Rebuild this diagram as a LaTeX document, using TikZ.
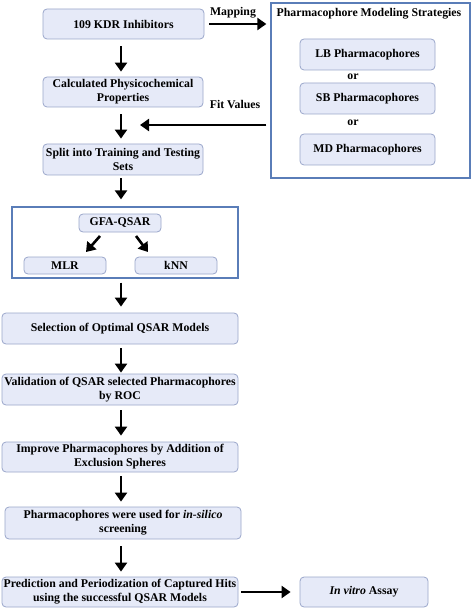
\documentclass[tikz,border=0pt]{standalone}
\usepackage{fontspec}
\setmainfont{Liberation Serif}
\usepackage{tikz}
\usetikzlibrary{arrows.meta}

\definecolor{boxfill}{HTML}{E6EAF8}
\definecolor{boxline}{HTML}{9AA6CA}
\definecolor{frameline}{HTML}{5A7DB8}

\begin{document}
\begin{tikzpicture}[x=1pt,y=-1pt,
    stepbox/.style={draw=boxline, fill=boxfill, rounded corners=4pt, line width=0.8pt,
        align=center, inner sep=1pt, font=\fontsize{11.8}{14}\selectfont\bfseries},
    framebox/.style={draw=frameline, line width=1.3pt},
    flow/.style={line width=2.6pt, -{Triangle[length=9pt,width=12pt]}},
    lbl/.style={font=\fontsize{11.8}{14}\selectfont\bfseries}]
        \useasboundingbox (0,0) rectangle (474,612);
        \coordinate (col) at(121,0);
        % left column
        \node[stepbox, minimum width=161pt, minimum height=30pt] (kdr) at(123.5,24) {109 KDR Inhibitors};
        \node[stepbox, minimum width=160pt, minimum height=30pt] (calc) at(123,92) {Calculated Physicochemical\\Properties};
        \node[stepbox, minimum width=160pt, minimum height=31pt] (split) at(123,159.5) {Split into Training and Testing\\Sets};
        \node[framebox, minimum width=226pt, minimum height=71pt] (qsar) at(125,242.5) {};
        \node[stepbox, minimum width=82pt, minimum height=18pt] (gfa) at(120,223) {GFA-QSAR};
        \node[stepbox, minimum width=82pt, minimum height=17pt] (mlr) at(65,265.5) {MLR};
        \node[stepbox, minimum width=82pt, minimum height=17pt] (knn) at(176,265.5) {kNN};
        \node[stepbox, minimum width=236pt, minimum height=31pt] (select) at(120,328.5) {Selection of Optimal QSAR Models};
        \node[stepbox, minimum width=236pt, minimum height=31pt] (valid) at(120,389.5) {Validation of QSAR selected Pharmacophores\\by ROC};
        \node[stepbox, minimum width=236pt, minimum height=30pt] (improve) at(120,457) {Improve Pharmacophores by Addition of\\Exclusion Spheres};
        \node[stepbox, minimum width=236pt, minimum height=32pt] (screen) at(123,523) {Pharmacophores were used for \textit{in-silico}\\screening};
        \node[stepbox, minimum width=236pt, minimum height=30pt] (predict) at(120,592) {Prediction and Periodization of Captured Hits\\using the successful QSAR Models};
        \node[stepbox, minimum width=128pt, minimum height=30pt] (vitro) at(364,592) {\textit{In vitro} Assay};
        % right panel
        \node[framebox, minimum width=199pt, minimum height=175pt] (strat) at(370.5,90.5) {};
        \node[lbl] (title) at(369,14) {Pharmacophore Modeling Strategies};
        \node[stepbox, minimum width=135pt, minimum height=31pt] (lb) at(367.5,54.5) {LB Pharmacophores};
        \node[stepbox, minimum width=135pt, minimum height=31pt] (sb) at(367.5,98.5) {SB Pharmacophores};
        \node[stepbox, minimum width=135pt, minimum height=31pt] (md) at(367.5,149.5) {MD Pharmacophores};
        \node[lbl] (or1) at(353,76.5) {or};
        \node[lbl] (or2) at(353,122.5) {or};
        \node[lbl] (map) at(233,13) {Mapping};
        \node[lbl] (fit) at(235,104.5) {Fit Values};
        \coordinate (fitend) at(140,125);
        % arrows
        \draw[flow, shorten <=7pt, shorten >=5pt] (kdr.south -| col) -- (calc.north -| col);
        \draw[flow, shorten <=7pt, shorten >=5pt] (calc.south -| col) -- (split.north -| col);
        \draw[flow, shorten <=3pt, shorten >=7pt] (split.south -| col) -- (qsar.north -| col);
        \draw[flow, shorten <=4pt, shorten >=6pt] (qsar.south -| col) -- (select.north -| col);
        \draw[flow, shorten <=4pt, shorten >=1pt] (select.south -| col) -- (valid.north -| col);
        \draw[flow, shorten <=5pt, shorten >=6pt] (valid.south -| col) -- (improve.north -| col);
        \draw[flow, shorten <=4pt, shorten >=5pt] (improve.south -| col) -- (screen.north -| col);
        \draw[flow, shorten <=7pt, shorten >=5pt] (screen.south -| col) -- (predict.north -| col);
        \draw[flow, shorten <=3pt, shorten >=9pt] (predict) -- (vitro);
        \draw[flow, shorten <=5pt, shorten >=4pt] (kdr.east |- 0,24) -- (strat.west |- 0,24);
        \draw[flow, shorten <=4pt] (strat.west |- fitend) -- (fitend);
        \draw[flow] (100,236) -- (86,252);
        \draw[flow] (136,236) -- (148,252);
\end{tikzpicture}
\end{document}
